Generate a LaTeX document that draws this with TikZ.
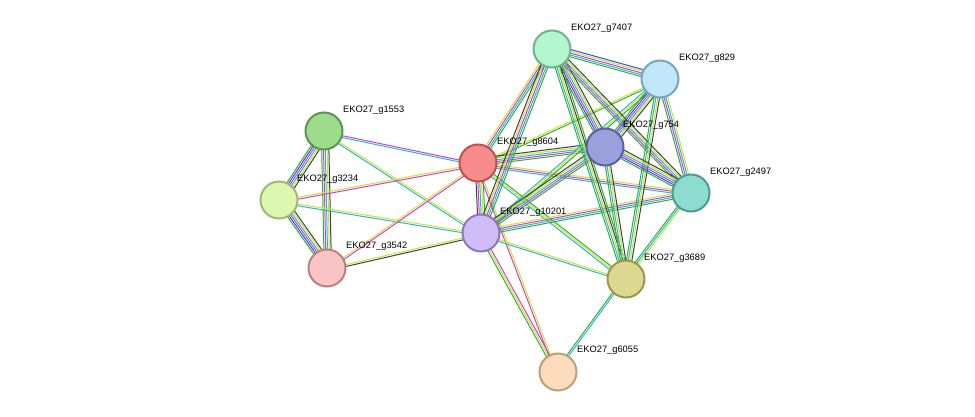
\documentclass[tikz,border=0pt]{standalone}
\usepackage{fontspec}
\setmainfont{Liberation Sans}
\usetikzlibrary{calc}
\definecolor{eg}{HTML}{30B030}
\definecolor{eb}{HTML}{3050E0}
\definecolor{em}{HTML}{D040D0}
\definecolor{ec}{HTML}{30B4D0}
\definecolor{ey}{HTML}{C8E632}
\definecolor{ek}{HTML}{404040}
\newcommand\medge[3]{\foreach \c [count=\i] in {#3}{\pgfmathsetmacro\off{(\i-2.5)*1.8}\draw[\c, line width=1pt] ($(#1)!\off pt!90:(#2)$) -- ($(#2)!\off pt!-90:(#1)$);}}
\begin{document}
\begin{tikzpicture}[x=1pt,y=-1pt,
  prot/.style={circle,minimum size=37pt,inner sep=0pt,line width=2pt},
  lab/.style={anchor=west,font=\fontsize{9.3}{11}\selectfont,inner sep=0pt}]
\useasboundingbox (0,0) rectangle (975,417);
\fill[white] (0,0) rectangle (975,417);
\coordinate (a7407) at (552,49);
\coordinate (a829) at (660,79);
\coordinate (a1553) at (324,131);
\coordinate (a8604) at (478,163);
\coordinate (a754) at (605,147);
\coordinate (a2497) at (691,193);
\coordinate (a3234) at (279,200);
\coordinate (a10201) at (481,233);
\coordinate (a3542) at (327,268);
\coordinate (a3689) at (626,279);
\coordinate (a6055) at (558,372);
% edges
\medge{a1553}{a3234}{eg,eb,em,ec,ey,ek}
\medge{a1553}{a3542}{eg,em,ec,ey,ek}
\medge{a3234}{a3542}{eg,eb,em,ec,ey,ek}
\medge{a1553}{a8604}{ec,em}
\medge{a1553}{a10201}{ec,ey}
\medge{a3234}{a8604}{em,ey}
\medge{a3234}{a10201}{ec,ey}
\medge{a3542}{a8604}{em,ey}
\medge{a3542}{a10201}{ek,ey}
\medge{a8604}{a10201}{ek,em,ec,ey,eg}
\medge{a8604}{a7407}{eg,ec,em,ey}
\medge{a8604}{a829}{eg,ey}
\medge{a8604}{a754}{eg,em,ec,ey,ek}
\medge{a8604}{a2497}{ec,em,ey}
\medge{a8604}{a3689}{ec,ey,eg}
\medge{a8604}{a6055}{em,ey}
\medge{a10201}{a7407}{eg,ec,em,ey,ek}
\medge{a10201}{a829}{eg,ey,ec}
\medge{a10201}{a754}{eg,em,ec,ey,ek}
\medge{a10201}{a2497}{eg,ec,em,ey}
\medge{a10201}{a3689}{ec,ey}
\medge{a10201}{a6055}{eg,ey,em}
\medge{a7407}{a829}{eg,ec,em,ey,eb}
\medge{a7407}{a754}{eg,eb,em,ec,ey,ek}
\medge{a7407}{a2497}{eg,em,ec,ey,ek}
\medge{a7407}{a3689}{eg,ec,ey,ek,eg}
\medge{a829}{a754}{eg,eb,em,ec,ey,ek}
\medge{a829}{a2497}{eg,em,ec,ey}
\medge{a829}{a3689}{eg,ec,ey,ek}
\medge{a754}{a2497}{eg,eb,em,ec,ey,ek}
\medge{a754}{a3689}{eg,ec,ey,ek}
\medge{a2497}{a3689}{eg,ec,ey}
\medge{a3689}{a6055}{eg,ec}
% nodes
\node[prot,fill={rgb,255:red,179;green,245;blue,204},draw={rgb,255:red,110;green,180;blue,140}] (n7407) at (a7407) {};
\node[prot,fill={rgb,255:red,192;green,230;blue,248},draw={rgb,255:red,120;green,165;blue,190}] (n829) at (a829) {};
\node[prot,fill={rgb,255:red,156;green,220;blue,140},draw={rgb,255:red,90;green,150;blue,80}] (n1553) at (a1553) {};
\node[prot,fill={rgb,255:red,248;green,140;blue,140},draw={rgb,255:red,190;green,80;blue,80}] (n8604) at (a8604) {};
\node[prot,fill={rgb,255:red,154;green,160;blue,220},draw={rgb,255:red,90;green,96;blue,160}] (n754) at (a754) {};
\node[prot,fill={rgb,255:red,140;green,220;blue,208},draw={rgb,255:red,80;green,155;blue,145}] (n2497) at (a2497) {};
\node[prot,fill={rgb,255:red,220;green,248;blue,176},draw={rgb,255:red,160;green,185;blue,120}] (n3234) at (a3234) {};
\node[prot,fill={rgb,255:red,208;green,188;blue,248},draw={rgb,255:red,140;green,120;blue,185}] (n10201) at (a10201) {};
\node[prot,fill={rgb,255:red,248;green,196;blue,196},draw={rgb,255:red,185;green,130;blue,130}] (n3542) at (a3542) {};
\node[prot,fill={rgb,255:red,220;green,216;blue,144},draw={rgb,255:red,155;green,150;blue,80}] (n3689) at (a3689) {};
\node[prot,fill={rgb,255:red,252;green,220;blue,188},draw={rgb,255:red,190;green,160;blue,120}] (n6055) at (a6055) {};
% labels
\node[lab] (l7407) at (571,28) {EKO27\_g7407};
\node[lab] (l829) at (679,58) {EKO27\_g829};
\node[lab] (l1553) at (343,110) {EKO27\_g1553};
\node[lab] (l8604) at (497,142) {EKO27\_g8604};
\node[lab] (l754) at (623,125) {EKO27\_g754};
\node[lab] (l2497) at (710,172) {EKO27\_g2497};
\node[lab] (l3234) at (297,179) {EKO27\_g3234};
\node[lab] (l10201) at (500,212) {EKO27\_g10201};
\node[lab] (l3542) at (346,246) {EKO27\_g3542};
\node[lab] (l3689) at (644,258) {EKO27\_g3689};
\node[lab] (l6055) at (577,350) {EKO27\_g6055};
\end{tikzpicture}
\end{document}
